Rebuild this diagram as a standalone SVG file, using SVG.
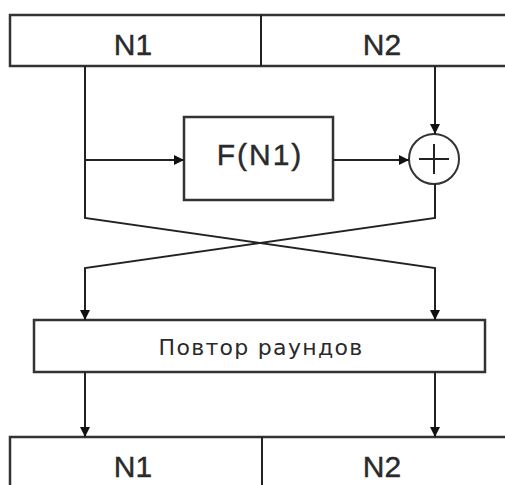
<svg xmlns="http://www.w3.org/2000/svg" width="505" height="485" viewBox="0 0 505 485">
<defs>
<marker id="ah" markerWidth="10" markerHeight="12" refX="10" refY="5" orient="auto" markerUnits="userSpaceOnUse">
<path d="M0,0 L10,5 L0,10 z" fill="#111"/>
</marker>
<style>
.box{fill:#fff;stroke:#333;stroke-width:2.5}
.ln{fill:none;stroke:#222;stroke-width:2}
.t{font-family:"Liberation Sans",Arial,sans-serif;fill:#2a2a2a;text-anchor:middle;stroke:#2a2a2a;stroke-width:0.4}
.s{font-family:"DejaVu Sans",Verdana,sans-serif;fill:#2a2a2a;text-anchor:middle}
</style>
</defs>
<rect width="505" height="485" fill="#fff"/>
<g id="top">
<rect class="box" x="10" y="15" width="500" height="51"/>
<line class="ln" x1="261" y1="15" x2="261" y2="66" stroke-width="2.5"/>
<text class="t" x="133" y="55" font-size="30">N1</text>
<text class="t" x="382" y="55" font-size="30">N2</text>
</g>
<g id="f">
<rect class="box" x="184" y="117" width="149" height="83"/>
<text class="t" x="260" y="165" font-size="30" letter-spacing="2">F(N1)</text>
</g>
<g id="xor">
<circle cx="434" cy="159" r="25" fill="#fff" stroke="#333" stroke-width="2"/>
<line class="ln" x1="419" y1="159" x2="449" y2="159"/>
<line class="ln" x1="434" y1="144" x2="434" y2="174"/>
</g>
<g id="rounds">
<rect class="box" x="34" y="320" width="451" height="52"/>
<text class="s" x="261" y="355" font-size="22" letter-spacing="1.3">Повтор раундов</text>
</g>
<g id="bottom">
<rect class="box" x="10" y="437" width="500" height="60"/>
<line class="ln" x1="262" y1="437" x2="262" y2="485" stroke-width="2.5"/>
<text class="t" x="133" y="477" font-size="30">N1</text>
<text class="t" x="382" y="477" font-size="30">N2</text>
</g>
<g id="connectors">
<polyline class="ln" points="85,66 85,218 435,268 435,320" marker-end="url(#ah)"/>
<line class="ln" x1="85" y1="160" x2="184" y2="160" marker-end="url(#ah)"/>
<line class="ln" x1="333" y1="160" x2="409" y2="160" marker-end="url(#ah)"/>
<line class="ln" x1="435" y1="66" x2="435" y2="134" marker-end="url(#ah)"/>
<polyline class="ln" points="435,184 435,218 85,268 85,320" marker-end="url(#ah)"/>
<line class="ln" x1="85" y1="372" x2="85" y2="437" marker-end="url(#ah)"/>
<line class="ln" x1="435" y1="372" x2="435" y2="437" marker-end="url(#ah)"/>
</g>
</svg>
